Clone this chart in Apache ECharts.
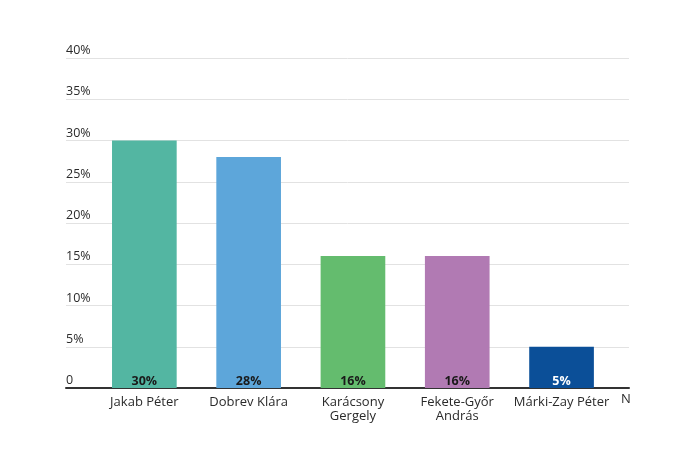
<!DOCTYPE html>
<html>
<head>
<meta charset="utf-8">
<script src="https://cdn.jsdelivr.net/npm/echarts@6/dist/echarts.min.js"></script>
<style>html,body{margin:0;padding:0;background:#fff}#c{width:690px;height:460px}</style>
</head>
<body>
<div id="c"></div>
<script>
const categories = ['Jakab Péter', 'Dobrev Klára', 'Karácsony\nGergely', 'Fekete-Győr\nAndrás', 'Márki-Zay Péter'];
const values = [30, 28, 16, 16, 5];
const barColors = ['#53b6a2', '#5da6da', '#64bc6e', '#b17ab3', '#0b4f98'];
const labelColors = ['#1a1a1a', '#1a1a1a', '#1a1a1a', '#1a1a1a', '#ffffff'];
const cutLabel = 'N';

const FONT = 'Open Sans';
const chart = echarts.init(document.getElementById('c'), null, {renderer: 'canvas'});
chart.setOption({
  animation: false,
  textStyle: {fontFamily: FONT},
  grid: [
    {left: 66, right: 61, top: 58, bottom: 72},
    {left: 92.2, right: 76.3, top: 58, bottom: 72}
  ],
  xAxis: [
    {gridIndex: 0, type: 'value', min: 0, max: 1, show: true,
     axisLine: {show: true, lineStyle: {color: '#333', width: 2}},
     axisTick: {show: false}, axisLabel: {show: false}, splitLine: {show: false}},
    {gridIndex: 1, type: 'category', data: categories,
     axisLine: {show: false}, axisTick: {show: false},
     axisLabel: {color: '#2a2a2a', fontSize: 13, fontFamily: FONT, margin: 7, lineHeight: 14, interval: 0}}
  ],
  yAxis: [
    {gridIndex: 0, type: 'value', min: 0, max: 40, interval: 5,
     axisLine: {show: false}, axisTick: {show: false},
     axisLabel: {inside: true, margin: 0, align: 'left', verticalAlign: 'bottom', padding: [0, 0, 1, 0],
       color: '#2a2a2a', fontSize: 12.5, fontFamily: FONT,
       formatter: v => v === 0 ? '0' : v + '%'},
     splitLine: {show: true, lineStyle: {color: '#e2e2e2', width: 1}}},
    {gridIndex: 1, type: 'value', min: 0, max: 40, show: false}
  ],
  series: [{
    type: 'bar', xAxisIndex: 1, yAxisIndex: 1,
    barWidth: '62%',
    data: values.map((v, i) => ({value: v, itemStyle: {color: barColors[i]},
      label: {color: labelColors[i]}})),
    label: {show: true, position: 'insideBottom', distance: 0, fontWeight: 'bold', fontSize: 12.5,
      fontFamily: FONT, formatter: p => p.value + '%'}
  }],
  graphic: [{type: 'text', left: 621, top: 393,
    style: {text: cutLabel, fill: '#2a2a2a', fontSize: 13, fontFamily: FONT}}]
});
</script>
</body>
</html>
